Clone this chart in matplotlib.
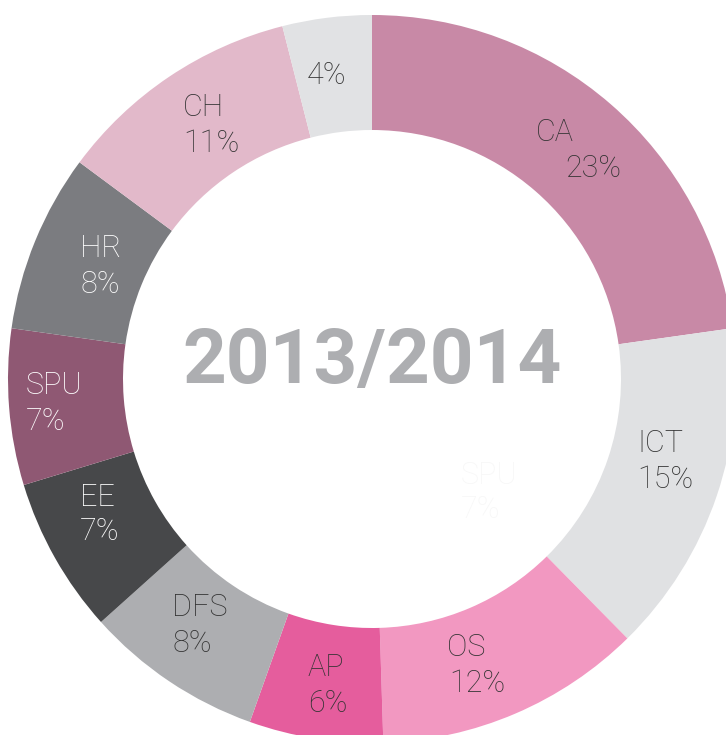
import matplotlib
matplotlib.use('Agg')
import matplotlib.pyplot as plt

plt.rcParams['font.family'] = ['Roboto', 'DejaVu Sans']

# data
labels = ['CA', 'ICT', 'OS', 'AP', 'DFS', 'EE', 'SPU', 'HR', 'CH', '']
shares = [23, 15, 12, 6, 8, 7, 7, 8, 11, 4]
colors = ['#c889a6', '#e0e1e3', '#f298c1', '#e55d9d', '#adaeb1',
          '#47484a', '#8f5873', '#7b7c80', '#e2b9ca', '#e1e2e4']
text_colors = ['#333333'] * 5 + ['white'] * 3 + ['#333333'] * 2
title = '2013/2014'

# label layout, pixel coords (name pos, pct pos), left aligned
name_pos = [(536, 132), (637, 443), (447, 648), (308, 668), (172, 608),
            (80, 497), (26, 385), (80, 248), (183, 107), None]
pct_pos = [(565, 168), (637, 479), (449, 683), (308, 703), (172, 643),
           (80, 532), (26, 421), (80, 284), (183, 143), (307, 75)]

fig = plt.figure(figsize=(7.26, 7.35), dpi=100)
ax = fig.add_axes([0, 0, 1, 1])
ax.set_xlim(0, 726)
ax.set_ylim(735, 0)
ax.axis('off')

cx, cy, R = 372, 379, 364
ring = 115
# y axis is inverted, so counterclockwise in data = clockwise on screen
ax.pie(shares, colors=colors, startangle=-90, counterclock=True,
       center=(cx, cy), radius=R, frame=True,
       wedgeprops=dict(width=ring, linewidth=0))
ax.set_xlim(0, 726)
ax.set_ylim(735, 0)
ax.axis('off')

for i in range(len(shares)):
    if name_pos[i] is not None:
        ax.text(name_pos[i][0], name_pos[i][1], labels[i], fontsize=22,
                fontweight='light', color=text_colors[i], ha='left', va='center')
    ax.text(pct_pos[i][0], pct_pos[i][1], '%d%%' % shares[i], fontsize=22,
            fontweight='light', color=text_colors[i], ha='left', va='center')

# faint leftover label in the hole
ax.text(461, 475, 'SPU', fontsize=22, fontweight='light', color='#f7f7f7',
        ha='left', va='center')
ax.text(461, 510, '7%', fontsize=22, fontweight='light', color='#f7f7f7',
        ha='left', va='center')

ax.text(cx, 362, title, fontsize=55, fontweight='bold', color='#adaeb1',
        ha='center', va='center')

fig.savefig('out.png', dpi=100)
